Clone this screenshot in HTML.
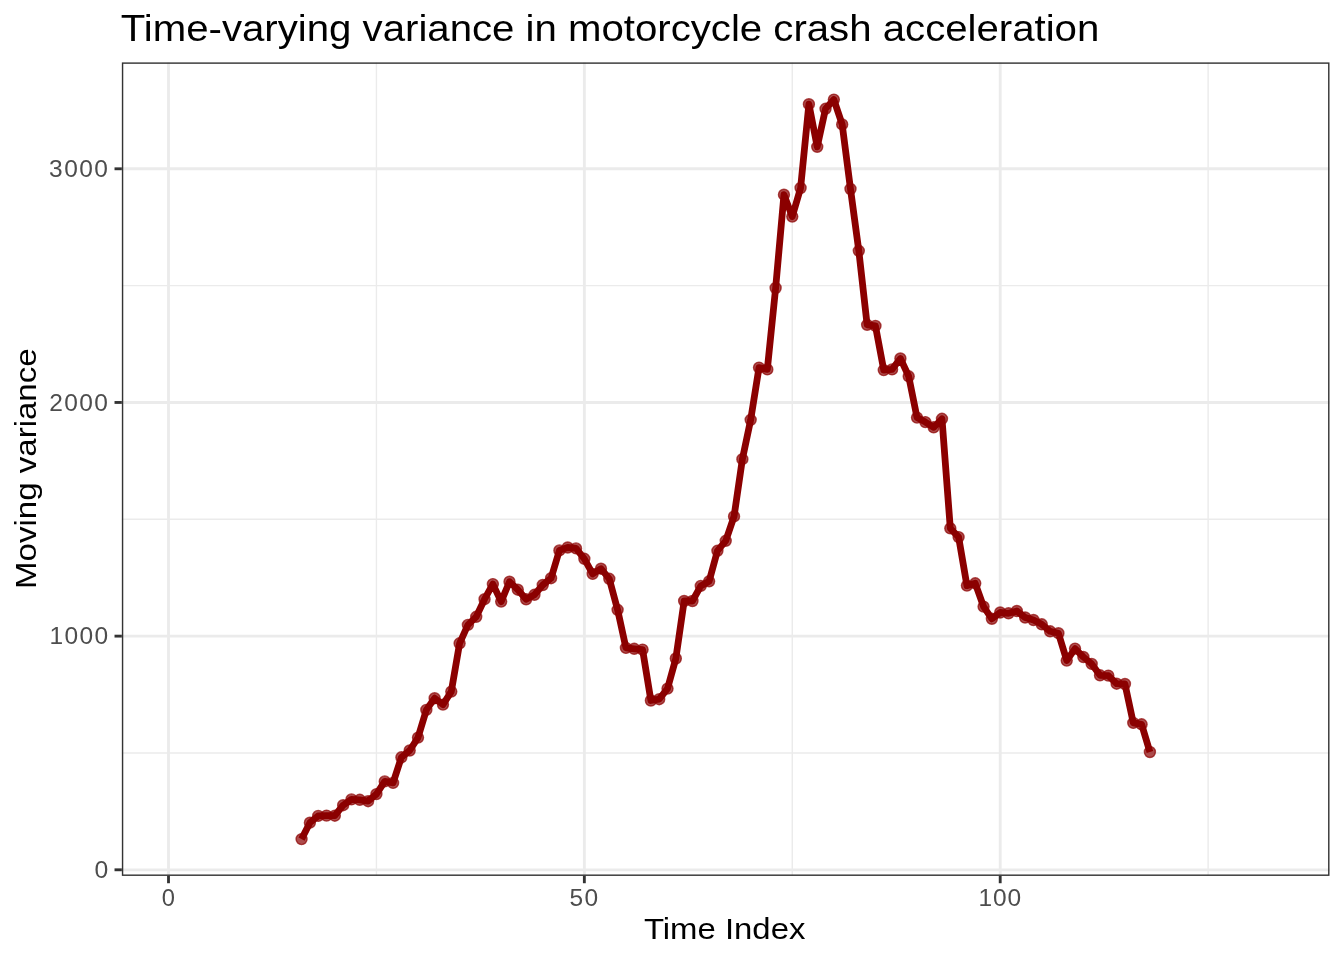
<!DOCTYPE html>
<html><head><meta charset="utf-8"><style>
html,body{margin:0;padding:0;background:#fff;width:1344px;height:960px;overflow:hidden}
svg{display:block;will-change:transform}
</style></head><body>
<svg width="1344" height="960" viewBox="0 0 1344 960">
<rect width="1344" height="960" fill="#fff"/>
<line x1="376.43" y1="62.4" x2="376.43" y2="875.9" stroke="#EBEBEB" stroke-width="1.42"/>
<line x1="792.27" y1="62.4" x2="792.27" y2="875.9" stroke="#EBEBEB" stroke-width="1.42"/>
<line x1="1208.12" y1="62.4" x2="1208.12" y2="875.9" stroke="#EBEBEB" stroke-width="1.42"/>
<line x1="121.85" y1="752.96" x2="1329.5" y2="752.96" stroke="#EBEBEB" stroke-width="1.42"/>
<line x1="121.85" y1="519.29" x2="1329.5" y2="519.29" stroke="#EBEBEB" stroke-width="1.42"/>
<line x1="121.85" y1="285.62" x2="1329.5" y2="285.62" stroke="#EBEBEB" stroke-width="1.42"/>
<line x1="168.50" y1="62.4" x2="168.50" y2="875.9" stroke="#EBEBEB" stroke-width="2.85"/>
<line x1="584.35" y1="62.4" x2="584.35" y2="875.9" stroke="#EBEBEB" stroke-width="2.85"/>
<line x1="1000.20" y1="62.4" x2="1000.20" y2="875.9" stroke="#EBEBEB" stroke-width="2.85"/>
<line x1="121.85" y1="869.80" x2="1329.5" y2="869.80" stroke="#EBEBEB" stroke-width="2.85"/>
<line x1="121.85" y1="636.13" x2="1329.5" y2="636.13" stroke="#EBEBEB" stroke-width="2.85"/>
<line x1="121.85" y1="402.46" x2="1329.5" y2="402.46" stroke="#EBEBEB" stroke-width="2.85"/>
<line x1="121.85" y1="168.79" x2="1329.5" y2="168.79" stroke="#EBEBEB" stroke-width="2.85"/>
<polyline points="301.57,839.10 309.89,822.70 318.21,815.90 326.52,815.60 334.84,815.70 343.16,805.20 351.47,799.40 359.79,799.80 368.11,801.20 376.43,794.10 384.74,781.40 393.06,782.90 401.38,757.30 409.69,750.50 418.01,737.60 426.33,709.90 434.64,698.20 442.96,704.60 451.28,691.60 459.60,643.30 467.91,624.90 476.23,616.80 484.55,599.20 492.86,584.10 501.18,601.60 509.50,581.70 517.81,589.70 526.13,599.30 534.45,594.80 542.76,585.00 551.08,578.20 559.40,550.40 567.72,547.50 576.03,548.40 584.35,558.80 592.67,573.90 600.98,568.70 609.30,578.80 617.62,609.80 625.93,647.90 634.25,648.80 642.57,649.60 650.89,700.50 659.20,699.20 667.52,688.60 675.84,658.50 684.15,601.00 692.47,601.00 700.79,585.90 709.11,581.30 717.42,550.80 725.74,540.80 734.06,516.40 742.37,459.20 750.69,419.80 759.01,367.60 767.32,369.40 775.64,288.00 783.96,194.70 792.27,216.60 800.59,188.00 808.91,104.20 817.23,146.80 825.54,108.80 833.86,99.60 842.18,124.40 850.49,189.00 858.81,250.80 867.13,324.80 875.45,325.90 883.76,370.10 892.08,369.40 900.40,358.50 908.71,376.30 917.03,417.60 925.35,422.10 933.66,427.30 941.98,418.80 950.30,528.30 958.62,537.10 966.93,585.60 975.25,583.30 983.57,606.60 991.88,618.80 1000.20,612.50 1008.52,613.30 1016.83,611.00 1025.15,617.50 1033.47,620.00 1041.78,624.30 1050.10,631.30 1058.42,633.20 1066.74,660.60 1075.05,648.60 1083.37,657.00 1091.69,663.90 1100.00,675.30 1108.32,675.60 1116.64,683.70 1124.95,684.00 1133.27,722.90 1141.59,724.30 1149.91,752.00" fill="none" stroke="#8B0000" stroke-width="6.8" stroke-linejoin="round" stroke-linecap="butt"/>
<circle cx="301.57" cy="839.10" r="5.5" fill="rgba(139,0,0,0.7)" stroke="rgba(139,0,0,0.7)" stroke-width="1.4"/>
<circle cx="309.89" cy="822.70" r="5.5" fill="rgba(139,0,0,0.7)" stroke="rgba(139,0,0,0.7)" stroke-width="1.4"/>
<circle cx="318.21" cy="815.90" r="5.5" fill="rgba(139,0,0,0.7)" stroke="rgba(139,0,0,0.7)" stroke-width="1.4"/>
<circle cx="326.52" cy="815.60" r="5.5" fill="rgba(139,0,0,0.7)" stroke="rgba(139,0,0,0.7)" stroke-width="1.4"/>
<circle cx="334.84" cy="815.70" r="5.5" fill="rgba(139,0,0,0.7)" stroke="rgba(139,0,0,0.7)" stroke-width="1.4"/>
<circle cx="343.16" cy="805.20" r="5.5" fill="rgba(139,0,0,0.7)" stroke="rgba(139,0,0,0.7)" stroke-width="1.4"/>
<circle cx="351.47" cy="799.40" r="5.5" fill="rgba(139,0,0,0.7)" stroke="rgba(139,0,0,0.7)" stroke-width="1.4"/>
<circle cx="359.79" cy="799.80" r="5.5" fill="rgba(139,0,0,0.7)" stroke="rgba(139,0,0,0.7)" stroke-width="1.4"/>
<circle cx="368.11" cy="801.20" r="5.5" fill="rgba(139,0,0,0.7)" stroke="rgba(139,0,0,0.7)" stroke-width="1.4"/>
<circle cx="376.43" cy="794.10" r="5.5" fill="rgba(139,0,0,0.7)" stroke="rgba(139,0,0,0.7)" stroke-width="1.4"/>
<circle cx="384.74" cy="781.40" r="5.5" fill="rgba(139,0,0,0.7)" stroke="rgba(139,0,0,0.7)" stroke-width="1.4"/>
<circle cx="393.06" cy="782.90" r="5.5" fill="rgba(139,0,0,0.7)" stroke="rgba(139,0,0,0.7)" stroke-width="1.4"/>
<circle cx="401.38" cy="757.30" r="5.5" fill="rgba(139,0,0,0.7)" stroke="rgba(139,0,0,0.7)" stroke-width="1.4"/>
<circle cx="409.69" cy="750.50" r="5.5" fill="rgba(139,0,0,0.7)" stroke="rgba(139,0,0,0.7)" stroke-width="1.4"/>
<circle cx="418.01" cy="737.60" r="5.5" fill="rgba(139,0,0,0.7)" stroke="rgba(139,0,0,0.7)" stroke-width="1.4"/>
<circle cx="426.33" cy="709.90" r="5.5" fill="rgba(139,0,0,0.7)" stroke="rgba(139,0,0,0.7)" stroke-width="1.4"/>
<circle cx="434.64" cy="698.20" r="5.5" fill="rgba(139,0,0,0.7)" stroke="rgba(139,0,0,0.7)" stroke-width="1.4"/>
<circle cx="442.96" cy="704.60" r="5.5" fill="rgba(139,0,0,0.7)" stroke="rgba(139,0,0,0.7)" stroke-width="1.4"/>
<circle cx="451.28" cy="691.60" r="5.5" fill="rgba(139,0,0,0.7)" stroke="rgba(139,0,0,0.7)" stroke-width="1.4"/>
<circle cx="459.60" cy="643.30" r="5.5" fill="rgba(139,0,0,0.7)" stroke="rgba(139,0,0,0.7)" stroke-width="1.4"/>
<circle cx="467.91" cy="624.90" r="5.5" fill="rgba(139,0,0,0.7)" stroke="rgba(139,0,0,0.7)" stroke-width="1.4"/>
<circle cx="476.23" cy="616.80" r="5.5" fill="rgba(139,0,0,0.7)" stroke="rgba(139,0,0,0.7)" stroke-width="1.4"/>
<circle cx="484.55" cy="599.20" r="5.5" fill="rgba(139,0,0,0.7)" stroke="rgba(139,0,0,0.7)" stroke-width="1.4"/>
<circle cx="492.86" cy="584.10" r="5.5" fill="rgba(139,0,0,0.7)" stroke="rgba(139,0,0,0.7)" stroke-width="1.4"/>
<circle cx="501.18" cy="601.60" r="5.5" fill="rgba(139,0,0,0.7)" stroke="rgba(139,0,0,0.7)" stroke-width="1.4"/>
<circle cx="509.50" cy="581.70" r="5.5" fill="rgba(139,0,0,0.7)" stroke="rgba(139,0,0,0.7)" stroke-width="1.4"/>
<circle cx="517.81" cy="589.70" r="5.5" fill="rgba(139,0,0,0.7)" stroke="rgba(139,0,0,0.7)" stroke-width="1.4"/>
<circle cx="526.13" cy="599.30" r="5.5" fill="rgba(139,0,0,0.7)" stroke="rgba(139,0,0,0.7)" stroke-width="1.4"/>
<circle cx="534.45" cy="594.80" r="5.5" fill="rgba(139,0,0,0.7)" stroke="rgba(139,0,0,0.7)" stroke-width="1.4"/>
<circle cx="542.76" cy="585.00" r="5.5" fill="rgba(139,0,0,0.7)" stroke="rgba(139,0,0,0.7)" stroke-width="1.4"/>
<circle cx="551.08" cy="578.20" r="5.5" fill="rgba(139,0,0,0.7)" stroke="rgba(139,0,0,0.7)" stroke-width="1.4"/>
<circle cx="559.40" cy="550.40" r="5.5" fill="rgba(139,0,0,0.7)" stroke="rgba(139,0,0,0.7)" stroke-width="1.4"/>
<circle cx="567.72" cy="547.50" r="5.5" fill="rgba(139,0,0,0.7)" stroke="rgba(139,0,0,0.7)" stroke-width="1.4"/>
<circle cx="576.03" cy="548.40" r="5.5" fill="rgba(139,0,0,0.7)" stroke="rgba(139,0,0,0.7)" stroke-width="1.4"/>
<circle cx="584.35" cy="558.80" r="5.5" fill="rgba(139,0,0,0.7)" stroke="rgba(139,0,0,0.7)" stroke-width="1.4"/>
<circle cx="592.67" cy="573.90" r="5.5" fill="rgba(139,0,0,0.7)" stroke="rgba(139,0,0,0.7)" stroke-width="1.4"/>
<circle cx="600.98" cy="568.70" r="5.5" fill="rgba(139,0,0,0.7)" stroke="rgba(139,0,0,0.7)" stroke-width="1.4"/>
<circle cx="609.30" cy="578.80" r="5.5" fill="rgba(139,0,0,0.7)" stroke="rgba(139,0,0,0.7)" stroke-width="1.4"/>
<circle cx="617.62" cy="609.80" r="5.5" fill="rgba(139,0,0,0.7)" stroke="rgba(139,0,0,0.7)" stroke-width="1.4"/>
<circle cx="625.93" cy="647.90" r="5.5" fill="rgba(139,0,0,0.7)" stroke="rgba(139,0,0,0.7)" stroke-width="1.4"/>
<circle cx="634.25" cy="648.80" r="5.5" fill="rgba(139,0,0,0.7)" stroke="rgba(139,0,0,0.7)" stroke-width="1.4"/>
<circle cx="642.57" cy="649.60" r="5.5" fill="rgba(139,0,0,0.7)" stroke="rgba(139,0,0,0.7)" stroke-width="1.4"/>
<circle cx="650.89" cy="700.50" r="5.5" fill="rgba(139,0,0,0.7)" stroke="rgba(139,0,0,0.7)" stroke-width="1.4"/>
<circle cx="659.20" cy="699.20" r="5.5" fill="rgba(139,0,0,0.7)" stroke="rgba(139,0,0,0.7)" stroke-width="1.4"/>
<circle cx="667.52" cy="688.60" r="5.5" fill="rgba(139,0,0,0.7)" stroke="rgba(139,0,0,0.7)" stroke-width="1.4"/>
<circle cx="675.84" cy="658.50" r="5.5" fill="rgba(139,0,0,0.7)" stroke="rgba(139,0,0,0.7)" stroke-width="1.4"/>
<circle cx="684.15" cy="601.00" r="5.5" fill="rgba(139,0,0,0.7)" stroke="rgba(139,0,0,0.7)" stroke-width="1.4"/>
<circle cx="692.47" cy="601.00" r="5.5" fill="rgba(139,0,0,0.7)" stroke="rgba(139,0,0,0.7)" stroke-width="1.4"/>
<circle cx="700.79" cy="585.90" r="5.5" fill="rgba(139,0,0,0.7)" stroke="rgba(139,0,0,0.7)" stroke-width="1.4"/>
<circle cx="709.11" cy="581.30" r="5.5" fill="rgba(139,0,0,0.7)" stroke="rgba(139,0,0,0.7)" stroke-width="1.4"/>
<circle cx="717.42" cy="550.80" r="5.5" fill="rgba(139,0,0,0.7)" stroke="rgba(139,0,0,0.7)" stroke-width="1.4"/>
<circle cx="725.74" cy="540.80" r="5.5" fill="rgba(139,0,0,0.7)" stroke="rgba(139,0,0,0.7)" stroke-width="1.4"/>
<circle cx="734.06" cy="516.40" r="5.5" fill="rgba(139,0,0,0.7)" stroke="rgba(139,0,0,0.7)" stroke-width="1.4"/>
<circle cx="742.37" cy="459.20" r="5.5" fill="rgba(139,0,0,0.7)" stroke="rgba(139,0,0,0.7)" stroke-width="1.4"/>
<circle cx="750.69" cy="419.80" r="5.5" fill="rgba(139,0,0,0.7)" stroke="rgba(139,0,0,0.7)" stroke-width="1.4"/>
<circle cx="759.01" cy="367.60" r="5.5" fill="rgba(139,0,0,0.7)" stroke="rgba(139,0,0,0.7)" stroke-width="1.4"/>
<circle cx="767.32" cy="369.40" r="5.5" fill="rgba(139,0,0,0.7)" stroke="rgba(139,0,0,0.7)" stroke-width="1.4"/>
<circle cx="775.64" cy="288.00" r="5.5" fill="rgba(139,0,0,0.7)" stroke="rgba(139,0,0,0.7)" stroke-width="1.4"/>
<circle cx="783.96" cy="194.70" r="5.5" fill="rgba(139,0,0,0.7)" stroke="rgba(139,0,0,0.7)" stroke-width="1.4"/>
<circle cx="792.27" cy="216.60" r="5.5" fill="rgba(139,0,0,0.7)" stroke="rgba(139,0,0,0.7)" stroke-width="1.4"/>
<circle cx="800.59" cy="188.00" r="5.5" fill="rgba(139,0,0,0.7)" stroke="rgba(139,0,0,0.7)" stroke-width="1.4"/>
<circle cx="808.91" cy="104.20" r="5.5" fill="rgba(139,0,0,0.7)" stroke="rgba(139,0,0,0.7)" stroke-width="1.4"/>
<circle cx="817.23" cy="146.80" r="5.5" fill="rgba(139,0,0,0.7)" stroke="rgba(139,0,0,0.7)" stroke-width="1.4"/>
<circle cx="825.54" cy="108.80" r="5.5" fill="rgba(139,0,0,0.7)" stroke="rgba(139,0,0,0.7)" stroke-width="1.4"/>
<circle cx="833.86" cy="99.60" r="5.5" fill="rgba(139,0,0,0.7)" stroke="rgba(139,0,0,0.7)" stroke-width="1.4"/>
<circle cx="842.18" cy="124.40" r="5.5" fill="rgba(139,0,0,0.7)" stroke="rgba(139,0,0,0.7)" stroke-width="1.4"/>
<circle cx="850.49" cy="189.00" r="5.5" fill="rgba(139,0,0,0.7)" stroke="rgba(139,0,0,0.7)" stroke-width="1.4"/>
<circle cx="858.81" cy="250.80" r="5.5" fill="rgba(139,0,0,0.7)" stroke="rgba(139,0,0,0.7)" stroke-width="1.4"/>
<circle cx="867.13" cy="324.80" r="5.5" fill="rgba(139,0,0,0.7)" stroke="rgba(139,0,0,0.7)" stroke-width="1.4"/>
<circle cx="875.45" cy="325.90" r="5.5" fill="rgba(139,0,0,0.7)" stroke="rgba(139,0,0,0.7)" stroke-width="1.4"/>
<circle cx="883.76" cy="370.10" r="5.5" fill="rgba(139,0,0,0.7)" stroke="rgba(139,0,0,0.7)" stroke-width="1.4"/>
<circle cx="892.08" cy="369.40" r="5.5" fill="rgba(139,0,0,0.7)" stroke="rgba(139,0,0,0.7)" stroke-width="1.4"/>
<circle cx="900.40" cy="358.50" r="5.5" fill="rgba(139,0,0,0.7)" stroke="rgba(139,0,0,0.7)" stroke-width="1.4"/>
<circle cx="908.71" cy="376.30" r="5.5" fill="rgba(139,0,0,0.7)" stroke="rgba(139,0,0,0.7)" stroke-width="1.4"/>
<circle cx="917.03" cy="417.60" r="5.5" fill="rgba(139,0,0,0.7)" stroke="rgba(139,0,0,0.7)" stroke-width="1.4"/>
<circle cx="925.35" cy="422.10" r="5.5" fill="rgba(139,0,0,0.7)" stroke="rgba(139,0,0,0.7)" stroke-width="1.4"/>
<circle cx="933.66" cy="427.30" r="5.5" fill="rgba(139,0,0,0.7)" stroke="rgba(139,0,0,0.7)" stroke-width="1.4"/>
<circle cx="941.98" cy="418.80" r="5.5" fill="rgba(139,0,0,0.7)" stroke="rgba(139,0,0,0.7)" stroke-width="1.4"/>
<circle cx="950.30" cy="528.30" r="5.5" fill="rgba(139,0,0,0.7)" stroke="rgba(139,0,0,0.7)" stroke-width="1.4"/>
<circle cx="958.62" cy="537.10" r="5.5" fill="rgba(139,0,0,0.7)" stroke="rgba(139,0,0,0.7)" stroke-width="1.4"/>
<circle cx="966.93" cy="585.60" r="5.5" fill="rgba(139,0,0,0.7)" stroke="rgba(139,0,0,0.7)" stroke-width="1.4"/>
<circle cx="975.25" cy="583.30" r="5.5" fill="rgba(139,0,0,0.7)" stroke="rgba(139,0,0,0.7)" stroke-width="1.4"/>
<circle cx="983.57" cy="606.60" r="5.5" fill="rgba(139,0,0,0.7)" stroke="rgba(139,0,0,0.7)" stroke-width="1.4"/>
<circle cx="991.88" cy="618.80" r="5.5" fill="rgba(139,0,0,0.7)" stroke="rgba(139,0,0,0.7)" stroke-width="1.4"/>
<circle cx="1000.20" cy="612.50" r="5.5" fill="rgba(139,0,0,0.7)" stroke="rgba(139,0,0,0.7)" stroke-width="1.4"/>
<circle cx="1008.52" cy="613.30" r="5.5" fill="rgba(139,0,0,0.7)" stroke="rgba(139,0,0,0.7)" stroke-width="1.4"/>
<circle cx="1016.83" cy="611.00" r="5.5" fill="rgba(139,0,0,0.7)" stroke="rgba(139,0,0,0.7)" stroke-width="1.4"/>
<circle cx="1025.15" cy="617.50" r="5.5" fill="rgba(139,0,0,0.7)" stroke="rgba(139,0,0,0.7)" stroke-width="1.4"/>
<circle cx="1033.47" cy="620.00" r="5.5" fill="rgba(139,0,0,0.7)" stroke="rgba(139,0,0,0.7)" stroke-width="1.4"/>
<circle cx="1041.78" cy="624.30" r="5.5" fill="rgba(139,0,0,0.7)" stroke="rgba(139,0,0,0.7)" stroke-width="1.4"/>
<circle cx="1050.10" cy="631.30" r="5.5" fill="rgba(139,0,0,0.7)" stroke="rgba(139,0,0,0.7)" stroke-width="1.4"/>
<circle cx="1058.42" cy="633.20" r="5.5" fill="rgba(139,0,0,0.7)" stroke="rgba(139,0,0,0.7)" stroke-width="1.4"/>
<circle cx="1066.74" cy="660.60" r="5.5" fill="rgba(139,0,0,0.7)" stroke="rgba(139,0,0,0.7)" stroke-width="1.4"/>
<circle cx="1075.05" cy="648.60" r="5.5" fill="rgba(139,0,0,0.7)" stroke="rgba(139,0,0,0.7)" stroke-width="1.4"/>
<circle cx="1083.37" cy="657.00" r="5.5" fill="rgba(139,0,0,0.7)" stroke="rgba(139,0,0,0.7)" stroke-width="1.4"/>
<circle cx="1091.69" cy="663.90" r="5.5" fill="rgba(139,0,0,0.7)" stroke="rgba(139,0,0,0.7)" stroke-width="1.4"/>
<circle cx="1100.00" cy="675.30" r="5.5" fill="rgba(139,0,0,0.7)" stroke="rgba(139,0,0,0.7)" stroke-width="1.4"/>
<circle cx="1108.32" cy="675.60" r="5.5" fill="rgba(139,0,0,0.7)" stroke="rgba(139,0,0,0.7)" stroke-width="1.4"/>
<circle cx="1116.64" cy="683.70" r="5.5" fill="rgba(139,0,0,0.7)" stroke="rgba(139,0,0,0.7)" stroke-width="1.4"/>
<circle cx="1124.95" cy="684.00" r="5.5" fill="rgba(139,0,0,0.7)" stroke="rgba(139,0,0,0.7)" stroke-width="1.4"/>
<circle cx="1133.27" cy="722.90" r="5.5" fill="rgba(139,0,0,0.7)" stroke="rgba(139,0,0,0.7)" stroke-width="1.4"/>
<circle cx="1141.59" cy="724.30" r="5.5" fill="rgba(139,0,0,0.7)" stroke="rgba(139,0,0,0.7)" stroke-width="1.4"/>
<circle cx="1149.91" cy="752.00" r="5.5" fill="rgba(139,0,0,0.7)" stroke="rgba(139,0,0,0.7)" stroke-width="1.4"/>
<rect x="122.56" y="63.11" width="1206.23" height="812.08" fill="none" stroke="#333333" stroke-width="1.42"/>
<line x1="168.50" y1="875.9" x2="168.50" y2="883.23" stroke="#333333" stroke-width="2.85"/>
<line x1="584.35" y1="875.9" x2="584.35" y2="883.23" stroke="#333333" stroke-width="2.85"/>
<line x1="1000.20" y1="875.9" x2="1000.20" y2="883.23" stroke="#333333" stroke-width="2.85"/>
<line x1="114.52" y1="869.80" x2="121.85" y2="869.80" stroke="#333333" stroke-width="2.85"/>
<line x1="114.52" y1="636.13" x2="121.85" y2="636.13" stroke="#333333" stroke-width="2.85"/>
<line x1="114.52" y1="402.46" x2="121.85" y2="402.46" stroke="#333333" stroke-width="2.85"/>
<line x1="114.52" y1="168.79" x2="121.85" y2="168.79" stroke="#333333" stroke-width="2.85"/>
<text x="161.80" y="905.90" font-family="Liberation Sans, sans-serif" font-size="24.5" fill="#4D4D4D" textLength="13.20" lengthAdjust="spacingAndGlyphs">0</text>
<text x="569.60" y="905.70" font-family="Liberation Sans, sans-serif" font-size="24.5" fill="#4D4D4D" textLength="28.44" lengthAdjust="spacing">50</text>
<text x="978.50" y="905.80" font-family="Liberation Sans, sans-serif" font-size="24.5" fill="#4D4D4D" textLength="42.68" lengthAdjust="spacing">100</text>
<text x="94.50" y="878.10" font-family="Liberation Sans, sans-serif" font-size="24.5" fill="#4D4D4D" textLength="13.76" lengthAdjust="spacingAndGlyphs">0</text>
<text x="49.40" y="644.43" font-family="Liberation Sans, sans-serif" font-size="24.5" fill="#4D4D4D" textLength="58.63" lengthAdjust="spacing">1000</text>
<text x="49.20" y="410.76" font-family="Liberation Sans, sans-serif" font-size="24.5" fill="#4D4D4D" textLength="58.80" lengthAdjust="spacing">2000</text>
<text x="49.10" y="177.09" font-family="Liberation Sans, sans-serif" font-size="24.5" fill="#4D4D4D" textLength="58.80" lengthAdjust="spacing">3000</text>
<text x="643.90" y="938.9" font-family="Liberation Sans, sans-serif" font-size="29.4" fill="#000" textLength="161.5" lengthAdjust="spacingAndGlyphs">Time Index</text>
<text transform="translate(35.9,588.90) rotate(-90)" x="0" y="0" font-family="Liberation Sans, sans-serif" font-size="29.6" fill="#000" textLength="240.5" lengthAdjust="spacingAndGlyphs">Moving variance</text>
<text x="120.80" y="41.1" font-family="Liberation Sans, sans-serif" font-size="36" fill="#000" textLength="978.5" lengthAdjust="spacingAndGlyphs">Time-varying variance in motorcycle crash acceleration</text>
</svg>
</body></html>
